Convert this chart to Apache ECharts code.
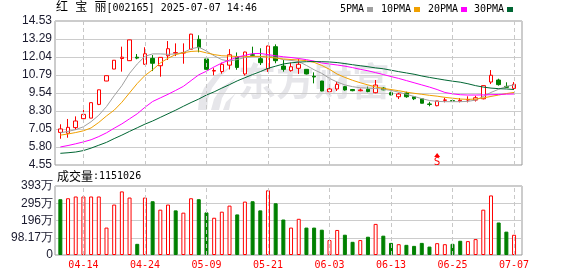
<!DOCTYPE html>
<html><head><meta charset="utf-8">
<script src="https://cdn.jsdelivr.net/npm/echarts@6/dist/echarts.min.js"></script>
<style>html,body{margin:0;padding:0;background:#fff}#c{width:578px;height:276px}</style>
</head><body><div id="c"></div>
<script>
const dates = ['04-09','04-10','04-11','04-14','04-15','04-16','04-17','04-18','04-21','04-22',
 '04-23','04-24','04-25','04-28','04-29','04-30','05-06','05-07','05-08','05-09',
 '05-12','05-13','05-14','05-15','05-16','05-19','05-20','05-21','05-22','05-23',
 '05-26','05-27','05-28','05-29','05-30','06-03','06-04','06-05','06-06','06-09',
 '06-10','06-11','06-12','06-13','06-16','06-17','06-18','06-19','06-20','06-23',
 '06-24','06-25','06-26','06-27','06-30','07-01','07-02','07-03','07-04','07-07'];
const opens = [6.81,6.75,7.14,7.76,7.80,8.75,10.37,11.20,11.93,11.78,
 12.02,11.53,11.94,11.43,12.12,12.30,12.31,12.57,13.26,11.90,
 11.06,11.03,11.47,12.06,10.86,12.19,11.92,11.22,12.75,11.41,
 11.09,11.25,11.18,10.70,10.37,9.63,9.82,9.98,9.78,9.70,
 9.80,9.56,9.88,9.56,9.28,9.54,9.28,9.14,8.78,8.66,
 9.03,9.01,8.97,9.05,9.05,9.14,10.30,10.44,10.00,9.86];
const closes = [7.05,7.16,7.60,8.06,8.87,9.76,10.74,11.81,12.02,13.22,
 11.96,12.26,11.60,12.01,12.61,12.34,12.34,13.62,12.68,11.18,
 11.10,11.53,12.19,11.31,12.38,12.15,11.64,12.80,11.78,11.18,
 11.36,11.53,10.86,10.65,9.68,9.82,10.14,9.75,9.70,9.75,
 9.64,10.09,9.76,9.41,9.47,9.28,9.14,8.83,8.75,8.99,
 9.06,8.98,9.03,9.09,9.21,10.05,10.77,10.12,9.93,10.14];
const lows = [6.37,6.44,7.00,7.55,7.79,8.70,10.36,11.19,11.02,11.76,
 11.88,11.50,11.06,10.67,11.83,12.10,11.57,12.56,12.36,11.15,
 10.77,10.88,11.17,11.15,10.75,12.06,11.48,11.00,11.60,11.02,
 11.02,10.86,10.83,10.21,9.66,9.62,9.68,9.70,9.66,9.66,
 9.59,9.52,9.73,9.38,9.12,9.21,9.05,8.82,8.62,8.62,
 8.89,8.91,8.89,8.89,8.95,9.10,10.16,10.05,9.91,9.84];
const highs = [7.37,7.74,7.92,8.38,8.88,9.77,10.75,11.82,12.75,13.23,
 12.24,12.71,12.17,12.02,13.14,12.98,12.98,13.64,13.54,11.95,
 11.26,11.64,12.58,12.35,12.40,12.75,12.64,12.82,12.91,11.83,
 11.64,11.90,11.20,10.97,10.38,10.03,10.32,10.03,9.82,9.85,
 9.98,10.44,9.94,9.63,9.56,9.63,9.30,9.15,8.93,9.00,
 9.21,9.14,9.19,9.31,9.35,10.06,11.13,10.53,10.28,10.30];
const ma5 = [6.78,6.88,7.00,7.20,7.55,8.00,8.60,9.35,10.05,10.90,
 11.55,12.08,12.25,12.25,12.22,12.25,12.35,12.60,12.72,12.45,
 12.12,11.85,11.75,11.86,12.00,12.06,12.06,12.12,12.00,11.85,
 11.80,11.72,11.45,11.15,10.90,10.55,10.30,10.10,9.98,9.90,
 9.88,9.85,9.80,9.72,9.60,9.45,9.30,9.15,9.02,8.96,
 8.94,8.94,8.94,8.96,9.05,9.30,9.58,9.80,10.00,10.10];
const ma10 = [6.62,6.70,6.80,6.92,7.12,7.50,7.95,8.35,8.90,9.55,
 10.20,10.75,11.15,11.62,11.95,12.20,12.33,12.42,12.45,12.32,
 12.20,12.12,12.10,12.07,12.06,12.08,12.08,12.02,11.96,11.90,
 11.86,11.83,11.78,11.66,11.45,11.18,10.85,10.62,10.42,10.25,
 10.10,9.96,9.86,9.78,9.70,9.60,9.52,9.45,9.38,9.32,
 9.24,9.18,9.12,9.10,9.12,9.20,9.30,9.40,9.50,9.58];
const ma20 = [5.80,5.90,6.02,6.15,6.30,6.52,6.78,7.10,7.40,7.75,
 8.10,8.55,8.95,9.20,9.45,9.72,10.00,10.40,10.80,11.05,
 11.35,11.62,11.82,12.02,12.15,12.27,12.28,12.20,12.12,12.05,
 12.00,11.93,11.85,11.75,11.62,11.55,11.48,11.40,11.30,11.18,
 11.08,10.95,10.82,10.68,10.55,10.40,10.25,10.10,9.95,9.78,
 9.58,9.48,9.42,9.40,9.40,9.41,9.42,9.44,9.46,9.47];
const ma30 = [5.36,5.40,5.45,5.55,5.72,5.92,6.12,6.38,6.62,6.88,
 7.13,7.38,7.60,7.85,8.10,8.35,8.62,8.88,9.12,9.40,
 9.62,9.88,10.12,10.38,10.60,10.82,11.02,11.25,11.40,11.55,
 11.63,11.68,11.71,11.72,11.71,11.69,11.65,11.58,11.50,11.43,
 11.36,11.28,11.22,11.12,11.02,10.93,10.84,10.72,10.62,10.53,
 10.44,10.36,10.29,10.18,10.05,9.95,9.88,9.84,9.82,9.78];
const volumes = [317.6,323,333,333,333,333,156,287,362,327,
 63.5,327,306,258,287,254,241,323,317.6,242.5,
 212,246.5,281,231,304,306,254,368,294.5,202,
 156,206,156,156,144,85,142.5,115.5,75,85,
 104,177,110,69,61.6,57.8,52,69,48,67.4,
 61.6,63.5,81,79,90.5,258,339,185,133,115.1];
const volUp = [0,1,1,1,1,1,1,1,1,1,
 0,1,0,1,1,0,1,1,0,0,
 1,1,1,0,1,0,0,1,0,0,
 1,1,0,0,0,1,1,0,0,1,
 0,1,0,0,1,0,0,0,0,1,
 1,0,0,1,1,1,1,0,0,1];
const labelDates = ['04-14','04-24','05-09','05-21','06-03','06-13','06-25','07-07'];
const priceTicks = ['4.55','5.80','7.05','8.30','9.54','10.79','12.04','13.29','14.53'];
const volTicks = ['0','98.17万','196万','295万','393万'];
const priceMin = 4.55, priceMax = 14.53, volMax = 392.68;
const signalDates = ['06-23'];
const legendNames = ['5PMA','10PMA','20PMA','30PMA'];
const titleName = '红 宝 丽', titleRest = '[002165] 2025-07-07 14:46';
const volTitle = '成交量', volLast = ':1151026';

const RED = '#ff0000', GREEN = '#008000';
const maColors = ['#a0a0a0', '#f0a000', '#ff00ff', '#006633'];
const labelColor = '#1a1a2e';
const mono = 'DejaVu Sans Mono';
const cjk = 'Noto Sans CJK SC';
const wmColor = '#e6e6ea';

const chart = echarts.init(document.getElementById('c'), null, {renderer: 'canvas'});
const candleData = dates.map((d, i) => [opens[i], closes[i], lows[i], highs[i]]);
const volData = volumes.map((v, i) => ({
  value: v,
  itemStyle: volUp[i] ? {color: '#fff', borderColor: RED, borderWidth: 1}
                      : {color: GREEN, borderColor: GREEN, borderWidth: 1}
}));
const vLines = {
  silent: true, symbol: ['none', 'none'], label: {show: false},
  lineStyle: {type: [4, 3], color: '#c8c8c8', width: 1},
  data: labelDates.map(d => ({xAxis: d})), animation: false
};
const maSeries = [ma5, ma10, ma20, ma30].map((arr, k) => ({
  name: legendNames[k], type: 'line', xAxisIndex: 1, yAxisIndex: 1, data: arr,
  symbol: 'none', lineStyle: {width: 1, color: maColors[k]}, itemStyle: {color: maColors[k]}, z: 3
}));

const legendX = [340, 381, 428, 474];
const legendG = [];
legendNames.forEach((n, k) => {
  legendG.push({type: 'text', left: legendX[k], top: 4,
    style: {text: n, font: '10px "' + mono + '"', fill: '#000'}});
  legendG.push({type: 'rect', left: legendX[k] + n.length * 6 + 3, top: 7,
    shape: {width: 6, height: 5}, style: {fill: maColors[k]}});
});

chart.setOption({
  animation: false,
  backgroundColor: '#fff',
  graphic: [
    {type: 'group', left: 198, top: 66, z: 0, children: [
      {type: 'polygon', shape: {points: [[2,44],[3,34],[8,22],[18,10],[36,0],[24,11],[16,22],[12,33],[11,44]]}, style: {fill: wmColor}},
      {type: 'polygon', shape: {points: [[15,44],[18,33],[26,21],[40,12],[32,22],[26,32],[23,44]]}, style: {fill: wmColor}},
      {type: 'polygon', shape: {points: [[27,44],[30,36],[40,27],[35,34],[33,44]]}, style: {fill: wmColor}}
    ]},
    {type: 'text', left: 238, top: 62, z: 0,
      style: {text: '东方财富', font: 'bold 38px "' + cjk + '"', fill: wmColor}},
    {type: 'text', left: 56, top: 2,
      style: {text: '{a|' + titleName + '}{b|' + titleRest + '}',
        rich: {a: {fontFamily: mono + ', ' + cjk, fontSize: 12, fill: '#000', verticalAlign: 'middle'},
               b: {fontFamily: mono, fontSize: 10, fill: '#000', verticalAlign: 'middle'}}}},
    {type: 'text', left: 57, top: 170,
      style: {text: '{a|' + volTitle + '}{b|' + volLast + '}',
        rich: {a: {fontFamily: cjk, fontSize: 12, fill: '#000', verticalAlign: 'middle'},
               b: {fontFamily: mono, fontSize: 10, fill: '#000', verticalAlign: 'middle'}}}},
    ...legendG
  ],
  grid: [
    {left: 55, top: 21, width: 467, height: 144, show: true, borderColor: '#999', borderWidth: 1, backgroundColor: 'transparent'},
    {left: 56.5, top: 21, width: 461.4, height: 144},
    {left: 55, top: 186, width: 467, height: 69, show: true, borderColor: '#999', borderWidth: 1, backgroundColor: 'transparent'},
    {left: 56.5, top: 186, width: 461.4, height: 69}
  ],
  xAxis: [
    {type: 'value', gridIndex: 0, min: 0, max: 1, show: false},
    {type: 'category', gridIndex: 1, data: dates, show: false},
    {type: 'value', gridIndex: 2, min: 0, max: 1, show: false},
    {type: 'category', gridIndex: 3, data: dates,
      axisLine: {show: false}, axisTick: {show: false}, splitLine: {show: false},
      axisLabel: {interval: (i, v) => labelDates.includes(v), color: RED, fontFamily: mono, fontSize: 10, margin: 5}}
  ],
  yAxis: [
    {type: 'value', gridIndex: 0, min: 0, max: 8, interval: 1,
      axisLine: {show: false}, axisTick: {show: false},
      axisLabel: {formatter: v => priceTicks[v], color: labelColor, fontFamily: 'Liberation Sans', fontSize: 12, margin: 3},
      splitLine: {lineStyle: {color: '#cccccc', width: 1}}},
    {type: 'value', gridIndex: 1, min: priceMin, max: priceMax, show: false},
    {type: 'value', gridIndex: 2, min: 0, max: 4, interval: 1,
      axisLine: {show: false}, axisTick: {show: false},
      axisLabel: {formatter: v => volTicks[v], color: labelColor, fontFamily: 'Liberation Sans', fontSize: 12, margin: 2},
      splitLine: {lineStyle: {color: '#cccccc', width: 1}}},
    {type: 'value', gridIndex: 3, min: 0, max: volMax, show: false}
  ],
  series: [
    {type: 'candlestick', xAxisIndex: 1, yAxisIndex: 1, data: candleData, barWidth: 4, z: 2,
      itemStyle: {color: '#fff', color0: GREEN, borderColor: RED, borderColor0: GREEN, borderWidth: 1},
      markLine: vLines,
      markPoint: {
        silent: true, animation: false,
        data: signalDates.map(d => ({coord: [d, priceMin]})),
        symbol: 'triangle', symbolSize: [6, 4], symbolOffset: [0, -10],
        itemStyle: {color: RED},
        label: {show: true, formatter: 'S', position: 'bottom', distance: 0, color: RED, fontFamily: mono, fontSize: 11}
      }},
    ...maSeries,
    {type: 'bar', xAxisIndex: 3, yAxisIndex: 3, data: volData, barWidth: 4, markLine: vLines}
  ]
});
</script></body></html>
